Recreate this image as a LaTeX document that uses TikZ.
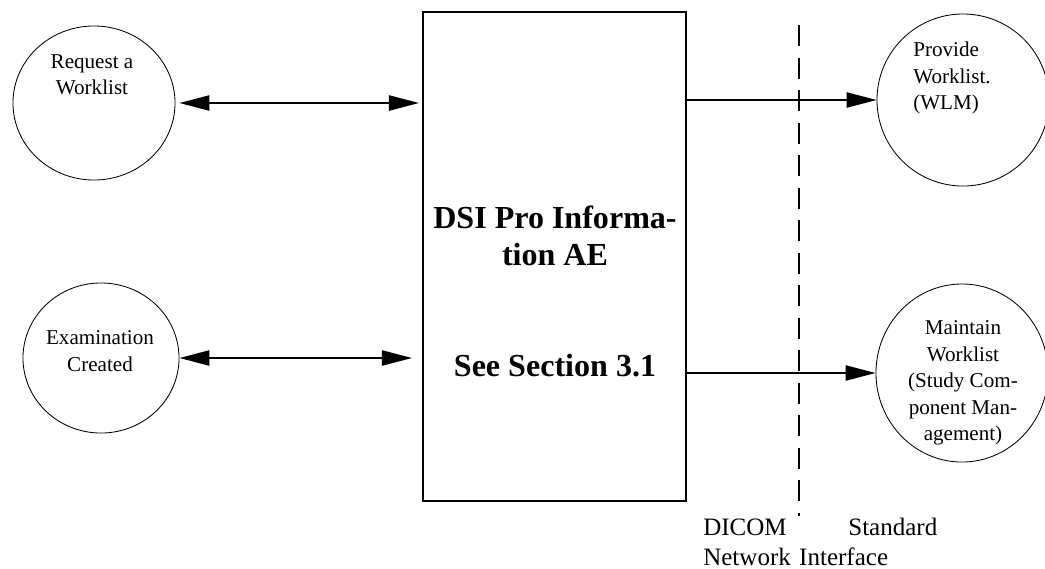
\documentclass[tikz,border=0pt]{standalone}
\usepackage{fontspec}
\setmainfont{Liberation Serif}
\usetikzlibrary{arrows.meta,shapes.geometric}

\begin{document}
\begin{tikzpicture}[x=0.025cm, y=-0.025cm,
	proc/.style={draw, ellipse, line width=0.6pt, inner sep=0pt},
	ptext/.style={inner sep=0pt, font=\fontsize{15}{18.8}\selectfont},
	ae/.style={draw, line width=1.4pt, minimum width=6.575cm, minimum height=12.225cm, inner sep=0pt},
	aetext/.style={align=center, inner sep=0pt, font=\bfseries\fontsize{22.8}{26.3}\selectfont},
	link/.style={line width=1.2pt, -{Triangle[length=0.75cm, width=0.38cm]}},
	duplex/.style={line width=1.2pt, {Triangle[length=0.75cm, width=0.38cm]}-{Triangle[length=0.75cm, width=0.38cm]}}]
	\useasboundingbox (0,0) rectangle (1045,568);
	\node[proc, minimum width=4.05cm, minimum height=3.85cm] (req) at (94,103) {};
	\node[proc, minimum width=3.9cm, minimum height=3.75cm] (exam) at (101,358) {};
	\node[proc, minimum width=4.3cm, minimum height=4.3cm] (prov) at (963,100) {};
	\node[proc, minimum width=4.3cm, minimum height=4.45cm] (maint) at (962,373) {};
	\node[ptext, align=center] (reqtxt) at (92,75) {Request a\\Worklist};
	\node[ptext, align=center] (examtxt) at (100,351) {Examination\\Created};
	\node[ptext, align=left, anchor=west] (provtxt) at (913,78) {Provide\\Worklist.\\(WLM)};
	\node[ptext, align=center] (mainttxt) at (963,383) {Maintain\\Worklist\\(Study Com-\\ponent Man-\\agement)};
	\node[ae] (box) at (554.5,256.5) {};
	\node[aetext] (aetxt) at (555,236) {DSI Pro Informa-\\tion AE};
	\node[aetext] (secttxt) at (555,366) {See Section 3.1};
	\coordinate (dtop) at (799,25);
	\coordinate (dbot) at (799,516);
	\draw[line width=1.2pt, dash pattern=on 0.525cm off 0.2875cm] (dtop) -- (dbot);
	\node[anchor=north west, inner sep=0pt, text width=5.85cm, align=left, font=\fontsize{17.8}{21.3}\selectfont] (iface) at (703,518) {DICOM\hfill Standard\\Network Interface};
	\draw[duplex, shorten <=0.1cm, shorten >=0.075cm] (req.east) -- (req.east -| box.west);
	\draw[duplex, shorten >=0.25cm] (exam.east) -- (exam.east -| box.west);
	\draw[link] (box.east |- prov.west) -- (prov.west);
	\draw[link] (box.east |- maint.west) -- (maint.west);
\end{tikzpicture}
\end{document}
